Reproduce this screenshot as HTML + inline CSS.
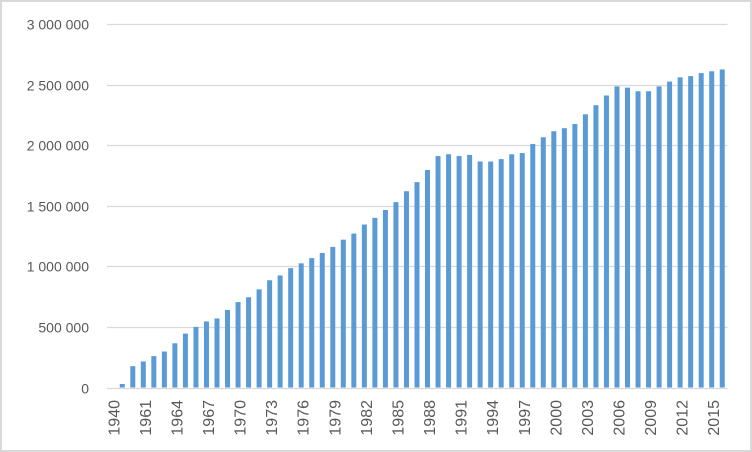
<!DOCTYPE html>
<html><head><meta charset="utf-8"><style>
html,body{margin:0;padding:0;background:#fff}
svg{display:block}
text{font-family:"Liberation Sans",Arial,sans-serif;font-size:14px;fill:#595959}
.xl{font-size:16px}
</style></head><body>
<svg id="chart" width="752" height="452">
<rect x="1" y="1" width="750" height="450" fill="#fff" stroke="#d9d9d9" stroke-width="2"/>
<g id="grid"></g><g id="bars"></g><g id="ylabels"></g><g id="xlabels"></g>
</svg>
<script>
const categories = ["1940","1959","1960","1961","1962","1963","1964","1965","1966","1967","1968","1969","1970","1971","1972","1973","1974","1975","1976","1977","1978","1979","1980","1981","1982","1983","1984","1985","1986","1987","1988","1989","1990","1991","1992","1993","1994","1995","1996","1997","1998","1999","2000","2001","2002","2003","2004","2005","2006","2007","2008","2009","2010","2011","2012","2013","2014","2015"];
const values = [29000,176000,215000,259000,297000,365000,445000,500000,545000,570000,640000,705000,745000,810000,885000,925000,985000,1025000,1068000,1110000,1160000,1220000,1270000,1345000,1400000,1465000,1530000,1620000,1695000,1795000,1910000,1925000,1910000,1920000,1865000,1865000,1885000,1925000,1935000,2010000,2065000,2115000,2140000,2175000,2255000,2330000,2410000,2485000,2475000,2445000,2445000,2485000,2525000,2560000,2570000,2595000,2610000,2625000];
const yTicks = [0,500000,1000000,1500000,2000000,2500000,3000000];
const yTickLabels = ["0","500 000","1 000 000","1 500 000","2 000 000","2 500 000","3 000 000"];

const NS="http://www.w3.org/2000/svg";
const plotL=117, plotR=727.5, y0=387.5, yTop=24;
const yMax=3000000;
const step=(plotR-plotL)/categories.length;
function yScale(v){return y0-(v/yMax)*(y0-yTop);}
function xScale(i){return plotL+step*(i+0.5);}
function mk(tag,attrs,parent){const e=document.createElementNS(NS,tag);for(const k in attrs)e.setAttribute(k,attrs[k]);parent.appendChild(e);return e;}
const grid=document.getElementById('grid'),bars=document.getElementById('bars'),yl=document.getElementById('ylabels'),xl=document.getElementById('xlabels');
yTicks.forEach((t,i)=>{
  const y=Math.round(yScale(t))+0.5;
  const ln=mk('line',{x1:107,x2:plotR,y1:y,y2:y,stroke:'#d9d9d9','stroke-width':1.3},grid);
  
  
  const tx=mk('text',{x:89,y:y+5,'text-anchor':'end'},yl);
  tx.textContent=yTickLabels[i];
  
  
});
values.forEach((v,i)=>{
  const x=xScale(i), y=yScale(v);
  const r=mk('rect',{x:x-2.5,y:y,width:5,height:y0-y,fill:'#5b9bd5'},bars);
  
  
});
categories.forEach((c,i)=>{
  if(i%3!==0)return;
  const x=xScale(i)-3;
  const tx=mk('text',{x:0,y:0,'text-anchor':'end','class':'xl',transform:`translate(${x},400) rotate(-90)`},xl);
  tx.textContent=c;
  
  
});
</script>
</body></html>
